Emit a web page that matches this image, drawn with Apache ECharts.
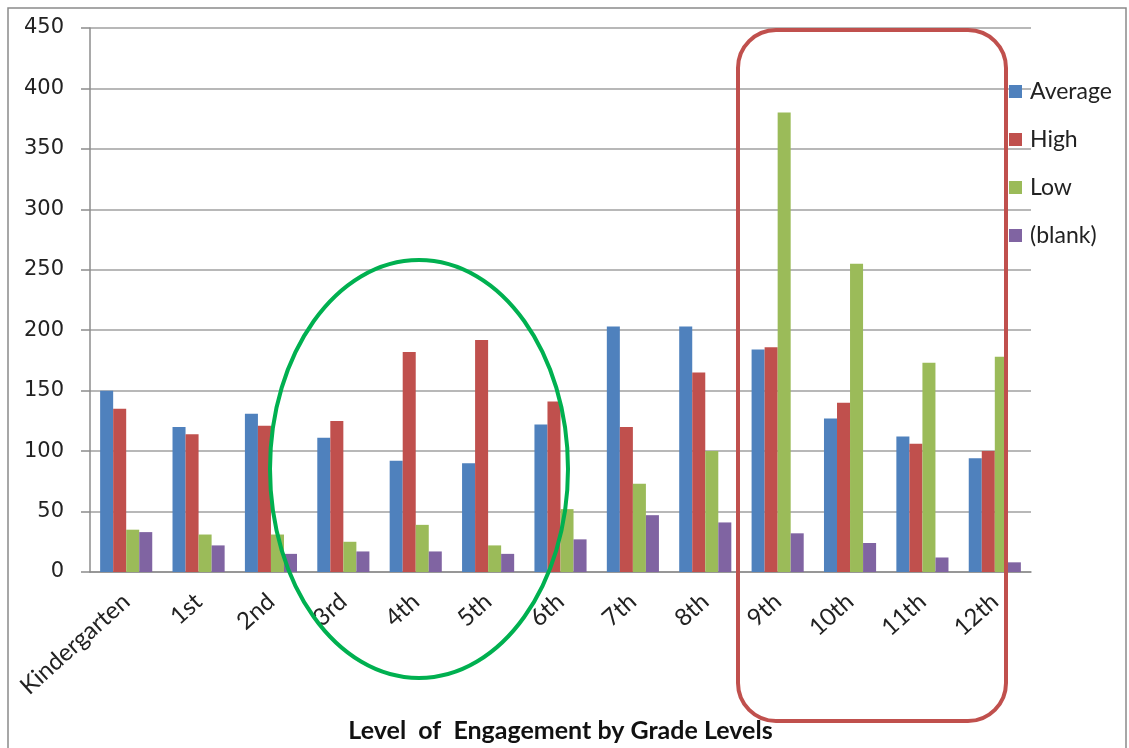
<!DOCTYPE html>
<html>
<head>
<meta charset="utf-8">
<script src="https://cdn.jsdelivr.net/npm/echarts@6/dist/echarts.min.js"></script>
<style>html,body{margin:0;padding:0;background:#fff;overflow:hidden;}#c{width:1129px;height:748px;}</style>
</head>
<body>
<div id="c"></div>
<script>
var categories = ['Kindergarten','1st','2nd','3rd','4th','5th','6th','7th','8th','9th','10th','11th','12th'];
var averageVals = [150,120,131,111,92,90,122,203,203,184,127,112,94];
var highVals    = [135,114,121,125,182,192,141,120,165,186,140,106,100];
var lowVals     = [35,31,31,25,39,22,52,73,100,380,255,173,178];
var blankVals   = [33,22,15,17,17,15,27,47,41,32,24,12,8];
var seriesNames = ['Average','High','Low','(blank)'];
var yTicks = [0,50,100,150,200,250,300,350,400,450];
var axisTitle = 'Level  of  Engagement by Grade Levels';

var chart = echarts.init(document.getElementById('c'), null, {renderer:'canvas'});
var colors = ['#4F81BD','#C0504D','#9BBB59','#8064A2'];
var data = [averageVals, highVals, lowVals, blankVals];
chart.setOption({
  animation: false,
  color: colors,
  grid: {left: 90, top: 28, width: 941, height: 544, containLabel: false},
  legend: {
    orient: 'vertical', left: 1009, top: 80, padding: 0, itemWidth: 13, itemHeight: 13, itemGap: 25,
    icon: 'rect',
    textStyle: {fontFamily: 'Lato', fontSize: 23, color: '#222', padding: [0,0,0,3]},
    data: seriesNames
  },
  xAxis: {
    type: 'category', data: categories,
    axisLine: {lineStyle: {color: '#8c8c8c', width: 1.5}},
    axisTick: {show: false},
    axisLabel: {rotate: 42, margin: 26, fontFamily: 'Lato', fontSize: 24, color: '#222', interval: 0},
    name: axisTitle, nameLocation: 'middle', nameGap: 146,
    nameTextStyle: {fontFamily: 'Lato', fontWeight: 'bold', fontSize: 25, color: '#111'}
  },
  yAxis: {
    type: 'value', min: yTicks[0], max: yTicks[yTicks.length-1], interval: 50,
    axisLine: {show: true, lineStyle: {color: '#8c8c8c', width: 1.5}},
    axisTick: {show: true, length: 9, lineStyle: {color: '#8c8c8c', width: 1.5}},
    splitLine: {lineStyle: {color: '#a0a0a0', width: 1.5}},
    axisLabel: {margin: 26, fontFamily: 'DejaVu Sans', fontSize: 21, color: '#222'}
  },
  series: seriesNames.map(function(n, i){
    return {name: n, type: 'bar', data: data[i], barGap: '0%', barCategoryGap: '28%'};
  }),
  graphic: [
    {type: 'rect', shape: {x: 8, y: 8, width: 1118, height: 760}, style: {fill: 'none', stroke: '#8a8a8a', lineWidth: 1.5}, z: 100},
    {type: 'ellipse', shape: {cx: 419, cy: 469, rx: 149, ry: 209}, style: {fill: 'none', stroke: '#00B050', lineWidth: 4}, z: 100},
    {type: 'rect', shape: {x: 738, y: 30, width: 268, height: 691, r: 38}, style: {fill: 'none', stroke: '#C0504D', lineWidth: 4}, z: 100}
  ]
});
</script>
</body>
</html>
